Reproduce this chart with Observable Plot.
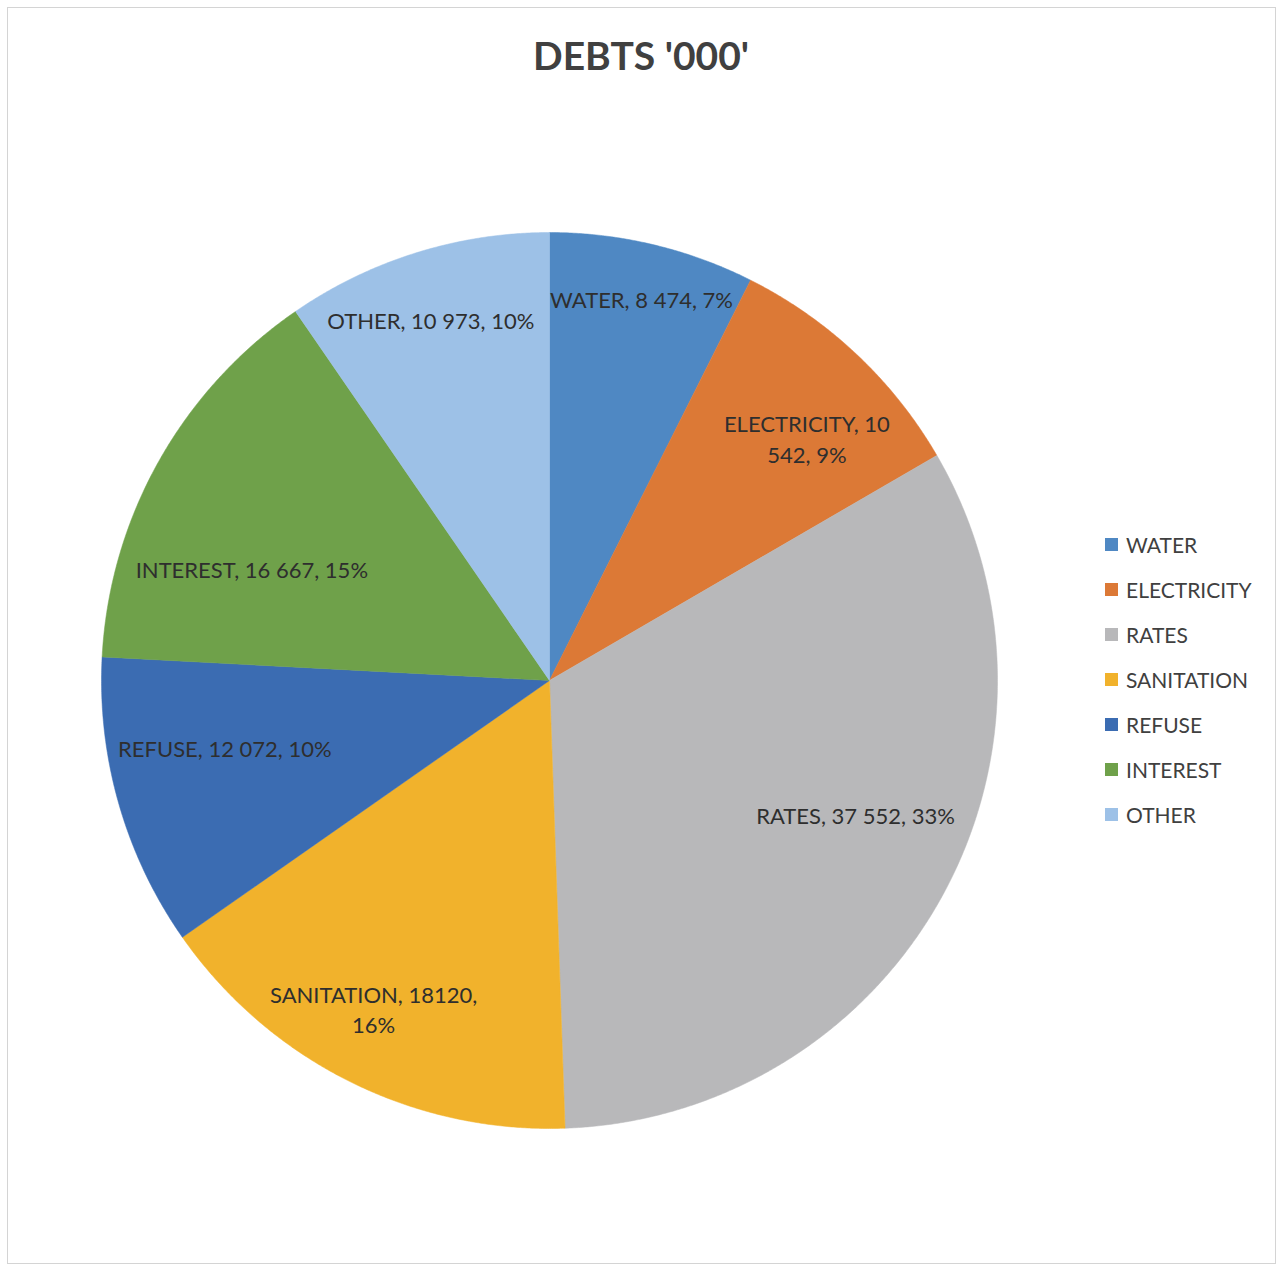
<!DOCTYPE html>
<html>
<head>
<meta charset="utf-8">
<script src="https://cdn.jsdelivr.net/npm/d3@7"></script>
<script src="https://cdn.jsdelivr.net/npm/@observablehq/plot@0.6"></script>
<style>
  body { margin: 0; background: #fff; }
  #frame { position: relative; width: 1282px; height: 1271px; background: #fff; font-family: Lato, "Open Sans", sans-serif; }
  #border { position: absolute; left: 7px; top: 7px; width: 1269px; height: 1257px; border: 1px solid #d4d4d4; box-sizing: border-box; pointer-events: none; }
  #title { position: absolute; top: 0; left: 0; width: 1282px; height: 100px; text-align: center; line-height: 110px; font-weight: 700; font-size: 39px; color: #404040; }
  #chart { position: absolute; top: 100px; left: 0; }
  #legend { position: absolute; left: 1105px; top: 522px; }
  .item { display: flex; align-items: center; height: 45px; font-size: 21px; color: #404040; }
  .sw { width: 13px; height: 13px; margin-right: 8px; }
</style>
</head>
<body>
<div id="frame">
  <div id="border"></div>
  <div id="title">DEBTS '000'</div>
  <div id="chart"></div>
  <div id="legend"></div>
</div>
<script>
const categories = ["WATER", "ELECTRICITY", "RATES", "SANITATION", "REFUSE", "INTEREST", "OTHER"];
const values = [8474, 10542, 37552, 18120, 12072, 16667, 10973];
const labels = [
  "WATER, 8 474, 7%",
  "ELECTRICITY, 10\n542, 9%",
  "RATES, 37 552, 33%",
  "SANITATION, 18120,\n16%",
  "REFUSE, 12 072, 10%",
  "INTEREST, 16 667, 15%",
  "OTHER, 10 973, 10%"
];
const colors = ["#4f88c3", "#dc7936", "#b8b8ba", "#f1b22c", "#3b6cb2", "#6fa14a", "#9dc1e7"];

// label placement (best-fit style): radial fraction and angular nudge (degrees) per slice
const labelRadius = [0.877, 0.79, 0.745, 0.83, 0.74, 0.71, 0.85];
const labelNudge = [0.2, 3.4, -5.4, 1.7, 4.3, -8.6, -0.9];

// Build slice polygons with d3.pie (clockwise from 12 o'clock)
const arcs = d3.pie().sort(null).value(d => d.value)(categories.map((name, i) => ({name, value: values[i]})));
const slicePoints = [];
for (const a of arcs) {
  const name = a.data.name;
  slicePoints.push({name, x: 0, y: 0});
  const n = Math.max(2, Math.ceil((a.endAngle - a.startAngle) / 0.005));
  for (let k = 0; k <= n; k++) {
    const t = a.startAngle + (a.endAngle - a.startAngle) * k / n;
    slicePoints.push({name, x: Math.sin(t), y: Math.cos(t)});
  }
  slicePoints.push({name, x: 0, y: 0});
}
const labelData = arcs.map((a, i) => {
  const m = (a.startAngle + a.endAngle) / 2 + labelNudge[i] * Math.PI / 180;
  return {name: a.data.name, text: labels[i], x: labelRadius[i] * Math.sin(m), y: labelRadius[i] * Math.cos(m)};
});

const cx = 549, cy = 580, R = 448;
const chart = Plot.plot({
  width: 1282,
  height: 1160,
  margin: 0,
  style: {fontFamily: "Lato, 'Open Sans', sans-serif", background: "transparent"},
  x: {domain: [-1, 1], range: [cx - R, cx + R], axis: null},
  y: {domain: [-1, 1], range: [cy + R, cy - R], axis: null},
  color: {domain: categories, range: colors},
  marks: [
    Plot.line(slicePoints, {x: "x", y: "y", z: "name", fill: "name", stroke: "name", strokeWidth: 0.5, curve: "linear"}),
    Plot.text(labelData, {x: "x", y: "y", text: "text", fontSize: 22, fill: "#2e2e2e", lineHeight: 1.4})
  ]
});
document.getElementById("chart").appendChild(chart);

const legend = document.getElementById("legend");
categories.forEach((c, i) => {
  const item = document.createElement("div");
  item.className = "item";
  item.innerHTML = `<span class="sw" style="background:${colors[i]}"></span><span>${c}</span>`;
  legend.appendChild(item);
});
</script>
</body>
</html>
